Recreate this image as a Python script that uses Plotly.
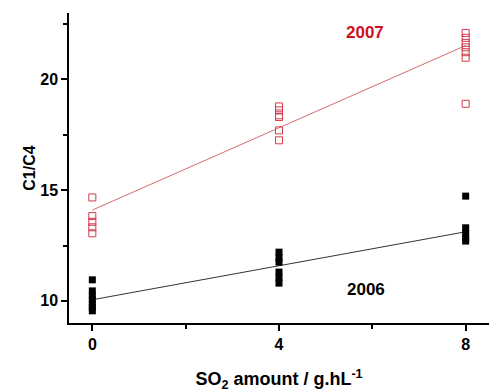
import plotly.graph_objects as go

# 2007 (open red squares)
x_2007 = [0, 0, 0, 0, 0,
          4, 4, 4, 4, 4, 4,
          8, 8, 8, 8, 8, 8, 8]
y_2007 = [14.67, 13.83, 13.57, 13.32, 13.05,
          18.78, 18.6, 18.38, 18.3, 17.7, 17.25,
          22.1, 21.88, 21.65, 21.45, 21.23, 20.98, 18.9]
# 2006 (filled black squares)
x_2006 = [0, 0, 0, 0, 0, 0, 0,
          4, 4, 4, 4, 4, 4,
          8, 8, 8, 8, 8]
y_2006 = [10.95, 10.45, 10.25, 10.05, 9.85, 9.7, 9.55,
          12.2, 11.95, 11.75, 11.3, 11.05, 10.8,
          14.73, 13.3, 13.05, 12.85, 12.7]
# linear fit lines (endpoints)
fit_x = [0, 8]
fit_2007 = [14.1, 21.53]
fit_2006 = [10.05, 13.12]

RED = "#d23a4a"
FONT = "Arial, Liberation Sans, sans-serif"

fig = go.Figure()
fig.add_trace(go.Scatter(x=fit_x, y=fit_2007, mode="lines",
                         line=dict(color="#d86a6a", width=1), showlegend=False))
fig.add_trace(go.Scatter(x=fit_x, y=fit_2006, mode="lines",
                         line=dict(color="#333333", width=1), showlegend=False))
fig.add_trace(go.Scatter(x=x_2007, y=y_2007, mode="markers",
                         marker=dict(symbol="square-open", size=7, color=RED,
                                     line=dict(width=1, color=RED)),
                         showlegend=False))
fig.add_trace(go.Scatter(x=x_2006, y=y_2006, mode="markers",
                         marker=dict(symbol="square", size=7, color="black"),
                         showlegend=False))

fig.add_annotation(x=5.84, y=22.1, text="<b>2007</b>", showarrow=False,
                   font=dict(family=FONT, size=17, color="#d0101e"),
                   xref="x", yref="y")
fig.add_annotation(x=5.86, y=10.5, text="<b>2006</b>", showarrow=False,
                   font=dict(family=FONT, size=17, color="black"),
                   xref="x", yref="y")

fig.update_layout(
    width=489, height=392,
    margin=dict(l=69, r=0, t=13, b=69),
    plot_bgcolor="white", paper_bgcolor="white",
    font=dict(family=FONT, size=16, color="black"),
    xaxis=dict(range=[-0.5, 8.5], tickvals=[0, 4, 8], ticktext=["<b>0</b>", "<b>4</b>", "<b>8</b>"],
               showline=True, linecolor="black", linewidth=1.5,
               ticks="outside", ticklen=6, tickwidth=1.5, tickcolor="black",
               minor=dict(tickvals=[2, 6], ticks="outside", ticklen=4, tickwidth=1.5, tickcolor="black"),
               showgrid=False, zeroline=False,
               title=dict(text="<b>SO<sub>2</sub> amount / g.hL<sup>-1</sup></b>",
                          font=dict(size=18), standoff=26)),
    yaxis=dict(range=[9, 23], tickvals=[10, 15, 20], ticktext=["<b>10</b>", "<b>15</b>", "<b>20</b>"],
               showline=True, linecolor="black", linewidth=1.5,
               ticks="outside", ticklen=6, tickwidth=1.5, tickcolor="black",
               minor=dict(tickvals=[12.5, 17.5, 22.5], ticks="outside", ticklen=4, tickwidth=1.5, tickcolor="black"),
               showgrid=False, zeroline=False,
               title=dict(text="<b>C1/C4</b>", font=dict(size=16), standoff=1)),
)

fig.write_html("out.html")
